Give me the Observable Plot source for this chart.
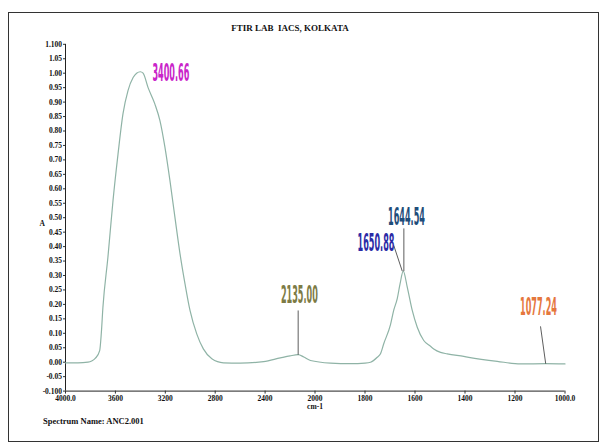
<!DOCTYPE html>
<html>
<head>
<meta charset="utf-8">
<script src="https://cdn.jsdelivr.net/npm/d3@7"></script>
<script src="https://cdn.jsdelivr.net/npm/@observablehq/plot@0.6"></script>
<style>
  html, body { margin: 0; padding: 0; background: #fff; }
  #wrap { position: relative; width: 608px; height: 446px; overflow: hidden; background: #fff; }
  #border { position: absolute; left: 8px; top: 12px; width: 591px; height: 430px; border: 1.5px solid #333; box-sizing: border-box; }
  #title { position: absolute; left: 0; width: 580px; top: 23px; text-align: center; font-family: "Liberation Serif", serif; font-weight: bold; font-size: 9px; color: #111; }
  #caption { position: absolute; left: 43px; top: 416px; font-family: "Liberation Serif", serif; font-weight: bold; font-size: 8.5px; color: #111; }
  #chart { position: absolute; left: 0; top: 0; }
</style>
</head>
<body>
<div id="wrap">
  <div id="border"></div>
  <div id="chart"></div>
  <div id="title">FTIR LAB&nbsp;&nbsp;IACS, KOLKATA</div>
  <div id="caption">Spectrum Name: ANC2.001</div>
</div>
<script>
// Spectrum (wavenumber cm-1, absorbance A)
const wavenumbers = [4000, 3900, 3820, 3790, 3760, 3726, 3713, 3700, 3660, 3619, 3579, 3539, 3499, 3458, 3430, 3400, 3378, 3338, 3284, 3243, 3203, 3163, 3123, 3082, 3042, 3002, 2948, 2895, 2827, 2734, 2600, 2412, 2278, 2200, 2135, 2090, 2036, 1938, 1858, 1800, 1778, 1751, 1738, 1725, 1698, 1685, 1671, 1660, 1647, 1631, 1611, 1591, 1565, 1538, 1525, 1498, 1471, 1405, 1385, 1271, 1178, 1078, 1000];
const absorbance = [-0.002, -0.002, 0.0, 0.004, 0.014, 0.04, 0.10, 0.19, 0.363, 0.56, 0.72, 0.86, 0.94, 0.985, 1.0, 1.005, 1.0, 0.95, 0.894, 0.836, 0.744, 0.629, 0.502, 0.375, 0.271, 0.179, 0.098, 0.046, 0.012, -0.002, -0.003, 0.002, 0.015, 0.022, 0.026, 0.018, 0.006, -0.003, -0.005, -0.003, 0.0, 0.017, 0.029, 0.064, 0.13, 0.18, 0.22, 0.27, 0.315, 0.26, 0.179, 0.121, 0.075, 0.055, 0.046, 0.034, 0.029, 0.02, 0.017, 0.003, -0.006, -0.005, -0.006];

// Peak annotations
const peakLabels = ["3400.66", "2135.00", "1650.88", "1644.54", "1077.24"];
const peakWn = [3400.66, 2135.00, 1650.88, 1644.54, 1077.24];
const peakA = [1.005, 0.026, 0.315, 0.315, -0.005];
const labelWn = [3155, 2125, 1756, 1634, 1106];
const labelA = [1.0, 0.232, 0.412, 0.502, 0.19];
const lineTopWn = [null, 2135, 1685, 1644.54, 1098];
const lineTopA = [null, 0.179, 0.404, 0.463, 0.124];
const peakColors = ["#c924c9", "#7d7b45", "#2b2ba6", "#1f4d7a", "#e5773d"];

// Axis ticks
const xTicks = [4000, 3600, 3200, 2800, 2400, 2000, 1800, 1600, 1400, 1200, 1000];
const xTickLabels = ["4000.0", "3600", "3200", "2800", "2400", "2000", "1800", "1600", "1400", "1200", "1000.0"];
const yTicks = d3.range(-0.1, 1.1001, 0.05).map(v => Math.round(v * 100) / 100);
const yTickLabels = yTicks.map((v, i) => (i === 0 || i === yTicks.length - 1) ? v.toFixed(3) : v.toFixed(2));

const lineIdx = [1, 2, 3, 4];

const svg = Plot.plot({
  width: 608,
  height: 446,
  marginLeft: 65,
  marginRight: 43.5,
  marginTop: 43.8,
  marginBottom: 55.4,
  style: { background: "transparent", fontFamily: "Liberation Serif, serif", fontSize: "7px", color: "#111", overflow: "visible" },
  x: { type: "linear", domain: [4000, 2000, 1000], range: [65, 314.5, 564.5], axis: null },
  y: { type: "linear", domain: [-0.1, 1.1], axis: null },
  marks: [
    Plot.ruleX([4000], { y1: -0.1, y2: 1.1, stroke: "#222", strokeWidth: 1 }),
    Plot.ruleY([-0.1], { x1: 4000, x2: 1000, stroke: "#222", strokeWidth: 1 }),
    Plot.axisY({ ticks: yTicks, tickFormat: d => yTickLabels[yTicks.indexOf(d)], anchor: "left", tickSize: 2, tickPadding: 1.5, fontWeight: "bold", fontSize: 7.5, stroke: "#333" }),
    Plot.axisX({ ticks: xTicks, tickFormat: d => xTickLabels[xTicks.indexOf(d)], anchor: "bottom", tickSize: 3, tickPadding: 2, fontWeight: "bold", fontSize: 7.5, stroke: "#333", label: null }),
    Plot.text(["cm-1"], { x: [2000], frameAnchor: "bottom", dy: 18, text: d => d, fontWeight: "bold", fontSize: 7.5 }),
    Plot.text(["A"], { frameAnchor: "left", dx: -26, dy: 6, text: d => d, fontWeight: "bold", fontSize: 7.5 }),
    Plot.line(wavenumbers, { x: wavenumbers, y: absorbance, curve: "monotone-x", stroke: "#8fb3a6", strokeWidth: 1.2 }),
    Plot.link(lineIdx, { x1: i => lineTopWn[i], y1: i => lineTopA[i], x2: i => peakWn[i], y2: i => peakA[i], stroke: "#333", strokeWidth: 0.8 }),
    Plot.text(peakLabels, { x: labelWn, y: labelA, text: peakLabels, fill: peakColors, fontFamily: "Liberation Sans Narrow, DejaVu Sans Condensed, Liberation Sans, sans-serif", fontWeight: "bold", fontSize: 24 })
  ]
});

document.getElementById("chart").appendChild(svg);

// Squeeze peak labels horizontally to match the narrow lettering of the original
svg.querySelectorAll("text").forEach(t => {
  if (peakLabels.includes(t.textContent)) {
    const w = t.getComputedTextLength();
    if (w > 0) {
      const tr = t.getAttribute("transform") || "";
      t.setAttribute("transform", tr + ` scale(${(37 / w).toFixed(4)},1)`);
    }
  }
});
</script>
</body>
</html>
